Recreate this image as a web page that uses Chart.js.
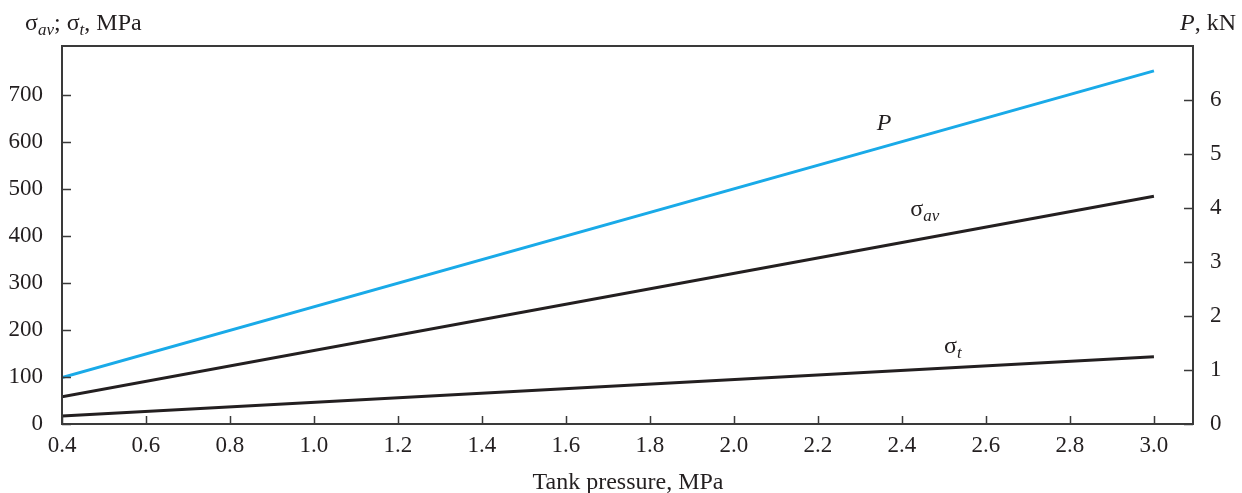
<!DOCTYPE html>
<html>
<head>
<meta charset="utf-8">
<script src="https://cdn.jsdelivr.net/npm/chart.js@4.4.1/dist/chart.umd.min.js"></script>
<style>
  html, body { margin: 0; padding: 0; background: #fff; }
  #wrap { width: 1242px; height: 493px; position: relative; }
</style>
</head>
<body>
<div id="wrap"><canvas id="c"></canvas></div>
<script>
// Daten
const pressure = [0.4, 3.0];              // Tank pressure, MPa
const sigmaAv = [58, 485];                // MPa, linke Achse
const sigmaT = [17, 143];                 // MPa, linke Achse
const forceP = [0.86, 6.54];              // kN, rechte Achse

const xTicks = [0.4, 0.6, 0.8, 1.0, 1.2, 1.4, 1.6, 1.8, 2.0, 2.2, 2.4, 2.6, 2.8, 3.0];
const leftTicks = [0, 100, 200, 300, 400, 500, 600, 700];
const rightTicks = [0, 1, 2, 3, 4, 5, 6];

const FONT = '"Liberation Serif", "DejaVu Serif", serif';
const BLUE = '#19aae8';
const BLACK = '#231f20';
const AXIS = '#3a3a3a';

// Rich-Text mit tiefgestellten Indizes zeichnen
function drawRich(ctx, parts, x, y, align) {
    const size = 24, subSize = 17;
    const fontOf = p => `${p.italic ? 'italic ' : ''}${p.sub ? subSize : size}px ${FONT}`;
    let total = 0;
    parts.forEach(p => { ctx.font = fontOf(p); total += ctx.measureText(p.t).width; });
    let cx = align === 'center' ? x - total / 2 : align === 'right' ? x - total : x;
    ctx.textAlign = 'left';
    ctx.textBaseline = 'alphabetic';
    parts.forEach(p => {
        ctx.font = fontOf(p);
        ctx.fillText(p.t, cx, p.sub ? y + 5 : y);
        cx += ctx.measureText(p.t).width;
    });
}

const decorPlugin = {
    id: 'decor',
    afterDraw(chart) {
        const { ctx, chartArea: a, scales } = chart;
        ctx.save();
        // Rahmen
        ctx.strokeStyle = AXIS;
        ctx.lineWidth = 2;
        ctx.strokeRect(a.left, a.top, a.right - a.left, a.bottom - a.top);
        // Ticks nach innen
        ctx.lineWidth = 1.5;
        ctx.beginPath();
        xTicks.forEach(v => {
            const px = Math.round(scales.x.getPixelForValue(v)) + 0.5;
            ctx.moveTo(px, a.bottom); ctx.lineTo(px, a.bottom - 8);
        });
        leftTicks.forEach(v => {
            const py = Math.round(scales.y.getPixelForValue(v)) + 0.5;
            ctx.moveTo(a.left, py); ctx.lineTo(a.left + 9, py);
        });
        rightTicks.forEach(v => {
            const py = Math.round(scales.y1.getPixelForValue(v)) + 0.5;
            ctx.moveTo(a.right, py); ctx.lineTo(a.right - 9, py);
        });
        ctx.stroke();

        ctx.fillStyle = BLACK;
        // Achsentitel
        drawRich(ctx, [{ t: 'σ' }, { t: 'av', sub: true, italic: true }, { t: '; σ' },
            { t: 't', sub: true, italic: true }, { t: ', MPa' }], 25, 30, 'left');
        drawRich(ctx, [{ t: 'P', italic: true }, { t: ', kN' }], 1236, 30, 'right');
        drawRich(ctx, [{ t: 'Tank pressure, MPa' }], 628, 489, 'center');

        // Kurvenbeschriftungen
        const lx = v => scales.x.getPixelForValue(v);
        drawRich(ctx, [{ t: 'P', italic: true }], lx(2.34), scales.y1.getPixelForValue(5.44), 'left');
        drawRich(ctx, [{ t: 'σ' }, { t: 'av', sub: true, italic: true }], lx(2.42), scales.y.getPixelForValue(443), 'left');
        drawRich(ctx, [{ t: 'σ' }, { t: 't', sub: true, italic: true }], lx(2.5), scales.y.getPixelForValue(151), 'left');
        ctx.restore();
    }
};

const tickFont = { family: FONT, size: 23 };

new Chart(document.getElementById('c'), {
    type: 'line',
    data: {
        datasets: [
            {
                label: 'P',
                data: pressure.map((x, i) => ({ x, y: forceP[i] })),
                borderColor: BLUE, borderWidth: 3, pointRadius: 0, yAxisID: 'y1'
            },
            {
                label: 'σav',
                data: pressure.map((x, i) => ({ x, y: sigmaAv[i] })),
                borderColor: BLACK, borderWidth: 3, pointRadius: 0, yAxisID: 'y'
            },
            {
                label: 'σt',
                data: pressure.map((x, i) => ({ x, y: sigmaT[i] })),
                borderColor: BLACK, borderWidth: 3, pointRadius: 0, yAxisID: 'y'
            }
        ]
    },
    options: {
        responsive: true,
        maintainAspectRatio: false,
        animation: false,
        layout: { padding: { top: 46, left: 0, right: 0, bottom: 0 } },
        plugins: { legend: { display: false }, tooltip: { enabled: false } },
        scales: {
            x: {
                type: 'linear', min: 0.4, max: 3.093,
                afterBuildTicks: s => { s.ticks = xTicks.map(v => ({ value: v })); },
                afterFit: s => { s.height = 69; },
                grid: { display: false, drawTicks: false },
                border: { display: false },
                ticks: { color: BLACK, font: tickFont, padding: 8, maxRotation: 0,
                    callback: v => v.toFixed(1) }
            },
            y: {
                type: 'linear', position: 'left', min: 0, max: 805,
                afterBuildTicks: s => { s.ticks = leftTicks.map(v => ({ value: v })); },
                afterFit: s => { s.width = 62; },
                grid: { display: false, drawTicks: false },
                border: { display: false },
                ticks: { color: BLACK, font: tickFont, padding: 19 }
            },
            y1: {
                type: 'linear', position: 'right', min: 0, max: 7.0,
                afterBuildTicks: s => { s.ticks = rightTicks.map(v => ({ value: v })); },
                afterFit: s => { s.width = 49; },
                grid: { display: false, drawTicks: false },
                border: { display: false },
                ticks: { color: BLACK, font: tickFont, padding: 17 }
            }
        }
    },
    plugins: [decorPlugin]
});
</script>
</body>
</html>
